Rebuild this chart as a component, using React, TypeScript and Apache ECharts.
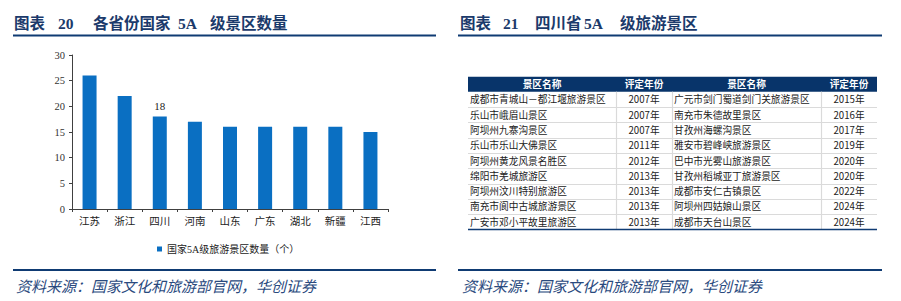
import React, { useEffect, useRef } from "react";
import * as echarts from "echarts";

const provinces = ["江苏", "浙江", "四川", "河南", "山东", "广东", "湖北", "新疆", "江西"];
const spotCounts = [26, 22, 18, 17, 16, 16, 16, 16, 15];
const labeledProvince = "四川";
const seriesName = "国家5A级旅游景区数量（个）";
const yTicks = { min: 0, max: 30, interval: 5 };

const tableHeader = ["景区名称", "评定年份", "景区名称", "评定年份"];
const leftSpots = [
  "成都市青城山－都江堰旅游景区",
  "乐山市峨眉山景区",
  "阿坝州九寨沟景区",
  "乐山市乐山大佛景区",
  "阿坝州黄龙风景名胜区",
  "绵阳市羌城旅游区",
  "阿坝州汶川特别旅游区",
  "南充市阆中古城旅游景区",
  "广安市邓小平故里旅游区",
];
const leftYears = ["2007年", "2007年", "2007年", "2011年", "2012年", "2013年", "2013年", "2013年", "2013年"];
const rightSpots = [
  "广元市剑门蜀道剑门关旅游景区",
  "南充市朱德故里景区",
  "甘孜州海螺沟景区",
  "雅安市碧峰峡旅游景区",
  "巴中市光雾山旅游景区",
  "甘孜州稻城亚丁旅游景区",
  "成都市安仁古镇景区",
  "阿坝州四姑娘山景区",
  "成都市天台山景区",
];
const rightYears = ["2015年", "2016年", "2017年", "2019年", "2020年", "2020年", "2022年", "2024年", "2024年"];

const NAVY = "#1B3A6B";
const LINE = "#0F3B73";
const SANS = "'Noto Sans CJK SC', 'Noto Sans', sans-serif";
const SERIF = "'Liberation Serif', 'Noto Sans CJK SC', serif";

function txt(text: string, x: number, y: number, opts: any = {}) {
  const align = opts.align || "left";
  return {
    type: "text",
    silent: true,
    style: {
      text,
      x,
      y,
      fill: opts.fill || "#222",
      fontSize: opts.fontSize || 10,
      fontFamily: opts.fontFamily || SANS,
      fontWeight: opts.fontWeight || "normal",
      fontStyle: opts.fontStyle || "normal",
      align,
      textAlign: align,
      verticalAlign: "middle",
      textVerticalAlign: "middle",
    },
  };
}

function line(x1: number, y1: number, x2: number, y2: number, stroke: string, lineWidth: number) {
  return { type: "line", silent: true, shape: { x1, y1, x2, y2 }, style: { stroke, lineWidth } };
}

function buildGraphics() {
  const g: any[] = [];
  // Titles
  const titleOpt = { fontSize: 15.5, fontWeight: "bold", fill: NAVY, fontFamily: SERIF };
  g.push(txt("图表", 14, 23, titleOpt));
  g.push(txt("20", 58, 23, titleOpt));
  g.push(txt("各省份国家", 93, 23, titleOpt));
  g.push(txt("5A", 178, 23, titleOpt));
  g.push(txt("级景区数量", 210, 23, titleOpt));
  g.push(txt("图表", 460, 23, titleOpt));
  g.push(txt("21", 503, 23, titleOpt));
  g.push(txt("四川省", 535, 23, titleOpt));
  g.push(txt("5A", 584, 23, titleOpt));
  g.push(txt("级旅游景区", 620, 23, titleOpt));
  g.push(line(13, 35.5, 436, 35.5, LINE, 2));
  g.push(line(458, 35.5, 882, 35.5, LINE, 2));
  // Footers
  g.push(line(13, 270, 436, 270, LINE, 2));
  g.push(line(458, 270, 882, 270, LINE, 2));
  const footOpt = { fontSize: 15, fontStyle: "italic", fill: "#2A4A7E", fontFamily: SANS };
  g.push(txt("资料来源：国家文化和旅游部官网，华创证券", 16, 285, footOpt));
  g.push(txt("资料来源：国家文化和旅游部官网，华创证券", 462, 285, footOpt));

  // Table
  const cols = [468, 616, 672, 821, 877];
  const headTop = 76.7;
  const headH = 15;
  const rowH = 15.3;
  const bodyTop = headTop + headH;
  const nRows = leftSpots.length;
  g.push({
    type: "rect",
    silent: true,
    shape: { x: cols[0], y: headTop, width: cols[4] - cols[0], height: headH },
    style: { fill: "#08346A" },
  });
  tableHeader.forEach((h, i) => {
    g.push(
      txt(h, (cols[i] + cols[i + 1]) / 2, headTop + headH / 2, {
        align: "center",
        fill: "#fff",
        fontWeight: "bold",
        fontSize: 9.7,
      })
    );
  });
  for (let r = 1; r < nRows; r++) {
    const y = Math.round(bodyTop + r * rowH) + 0.5;
    g.push(line(cols[0], y, cols[4], y, "#DADADA", 1.2));
  }
  for (let c = 1; c < 4; c++) {
    g.push(line(cols[c] + 0.5, bodyTop, cols[c] + 0.5, bodyTop + nRows * rowH, "#DADADA", 1.2));
  }
  g.push(line(cols[0], bodyTop + nRows * rowH, cols[4], bodyTop + nRows * rowH, LINE, 1.5));
  for (let r = 0; r < nRows; r++) {
    const cy = bodyTop + rowH * (r + 0.5);
    g.push(txt(leftSpots[r], cols[0] + 2, cy, { fontSize: 9.7 }));
    g.push(txt(leftYears[r], (cols[1] + cols[2]) / 2, cy, { fontSize: 9.7, align: "center" }));
    g.push(txt(rightSpots[r], cols[2] + 2, cy, { fontSize: 9.7 }));
    g.push(txt(rightYears[r], (cols[3] + cols[4]) / 2, cy, { fontSize: 9.7, align: "center" }));
  }
  return g;
}

export default function App() {
  const ref = useRef<HTMLDivElement>(null);
  useEffect(() => {
    if (!ref.current) return;
    const chart = echarts.init(ref.current, undefined, { renderer: "svg" });
    const axisColor = "#404040";
    chart.setOption({
      animation: false,
      backgroundColor: "#fff",
      grid: { left: 72, right: 513, top: 55, bottom: 92, containLabel: false },
      legend: {
        data: [seriesName],
        left: 152,
        top: 239,
        icon: "rect",
        itemWidth: 5,
        itemHeight: 5,
        itemGap: 5,
        textStyle: { fontSize: 10, fontFamily: SERIF, color: "#222" },
      },
      xAxis: {
        type: "category",
        data: provinces,
        axisLine: { lineStyle: { color: axisColor, width: 1 } },
        axisTick: { show: true, length: 3, lineStyle: { color: axisColor } },
        axisLabel: { fontSize: 10.5, fontFamily: SERIF, color: "#222", margin: 7, interval: 0 },
      },
      yAxis: {
        type: "value",
        min: yTicks.min,
        max: yTicks.max,
        interval: yTicks.interval,
        splitLine: { show: false },
        axisLine: { show: true, lineStyle: { color: axisColor, width: 1 } },
        axisTick: { show: true, length: 3, lineStyle: { color: axisColor } },
        axisLabel: { fontSize: 10.5, fontFamily: SERIF, color: "#333", margin: 7 },
      },
      series: [
        {
          name: seriesName,
          type: "bar",
          barWidth: 14,
          itemStyle: { color: "#0A6FC2" },
          data: spotCounts.map((v, i) => ({
            value: v,
            label: {
              show: provinces[i] === labeledProvince,
              position: "top",
              distance: 5,
              fontSize: 11,
              fontFamily: SERIF,
              color: "#222",
            },
          })),
        },
      ],
      graphic: buildGraphics(),
    });
    return () => chart.dispose();
  }, []);
  return (
    <div
      ref={ref}
      style={{ position: "absolute", left: 0, top: 0, width: 901, height: 301 }}
    />
  );
}
